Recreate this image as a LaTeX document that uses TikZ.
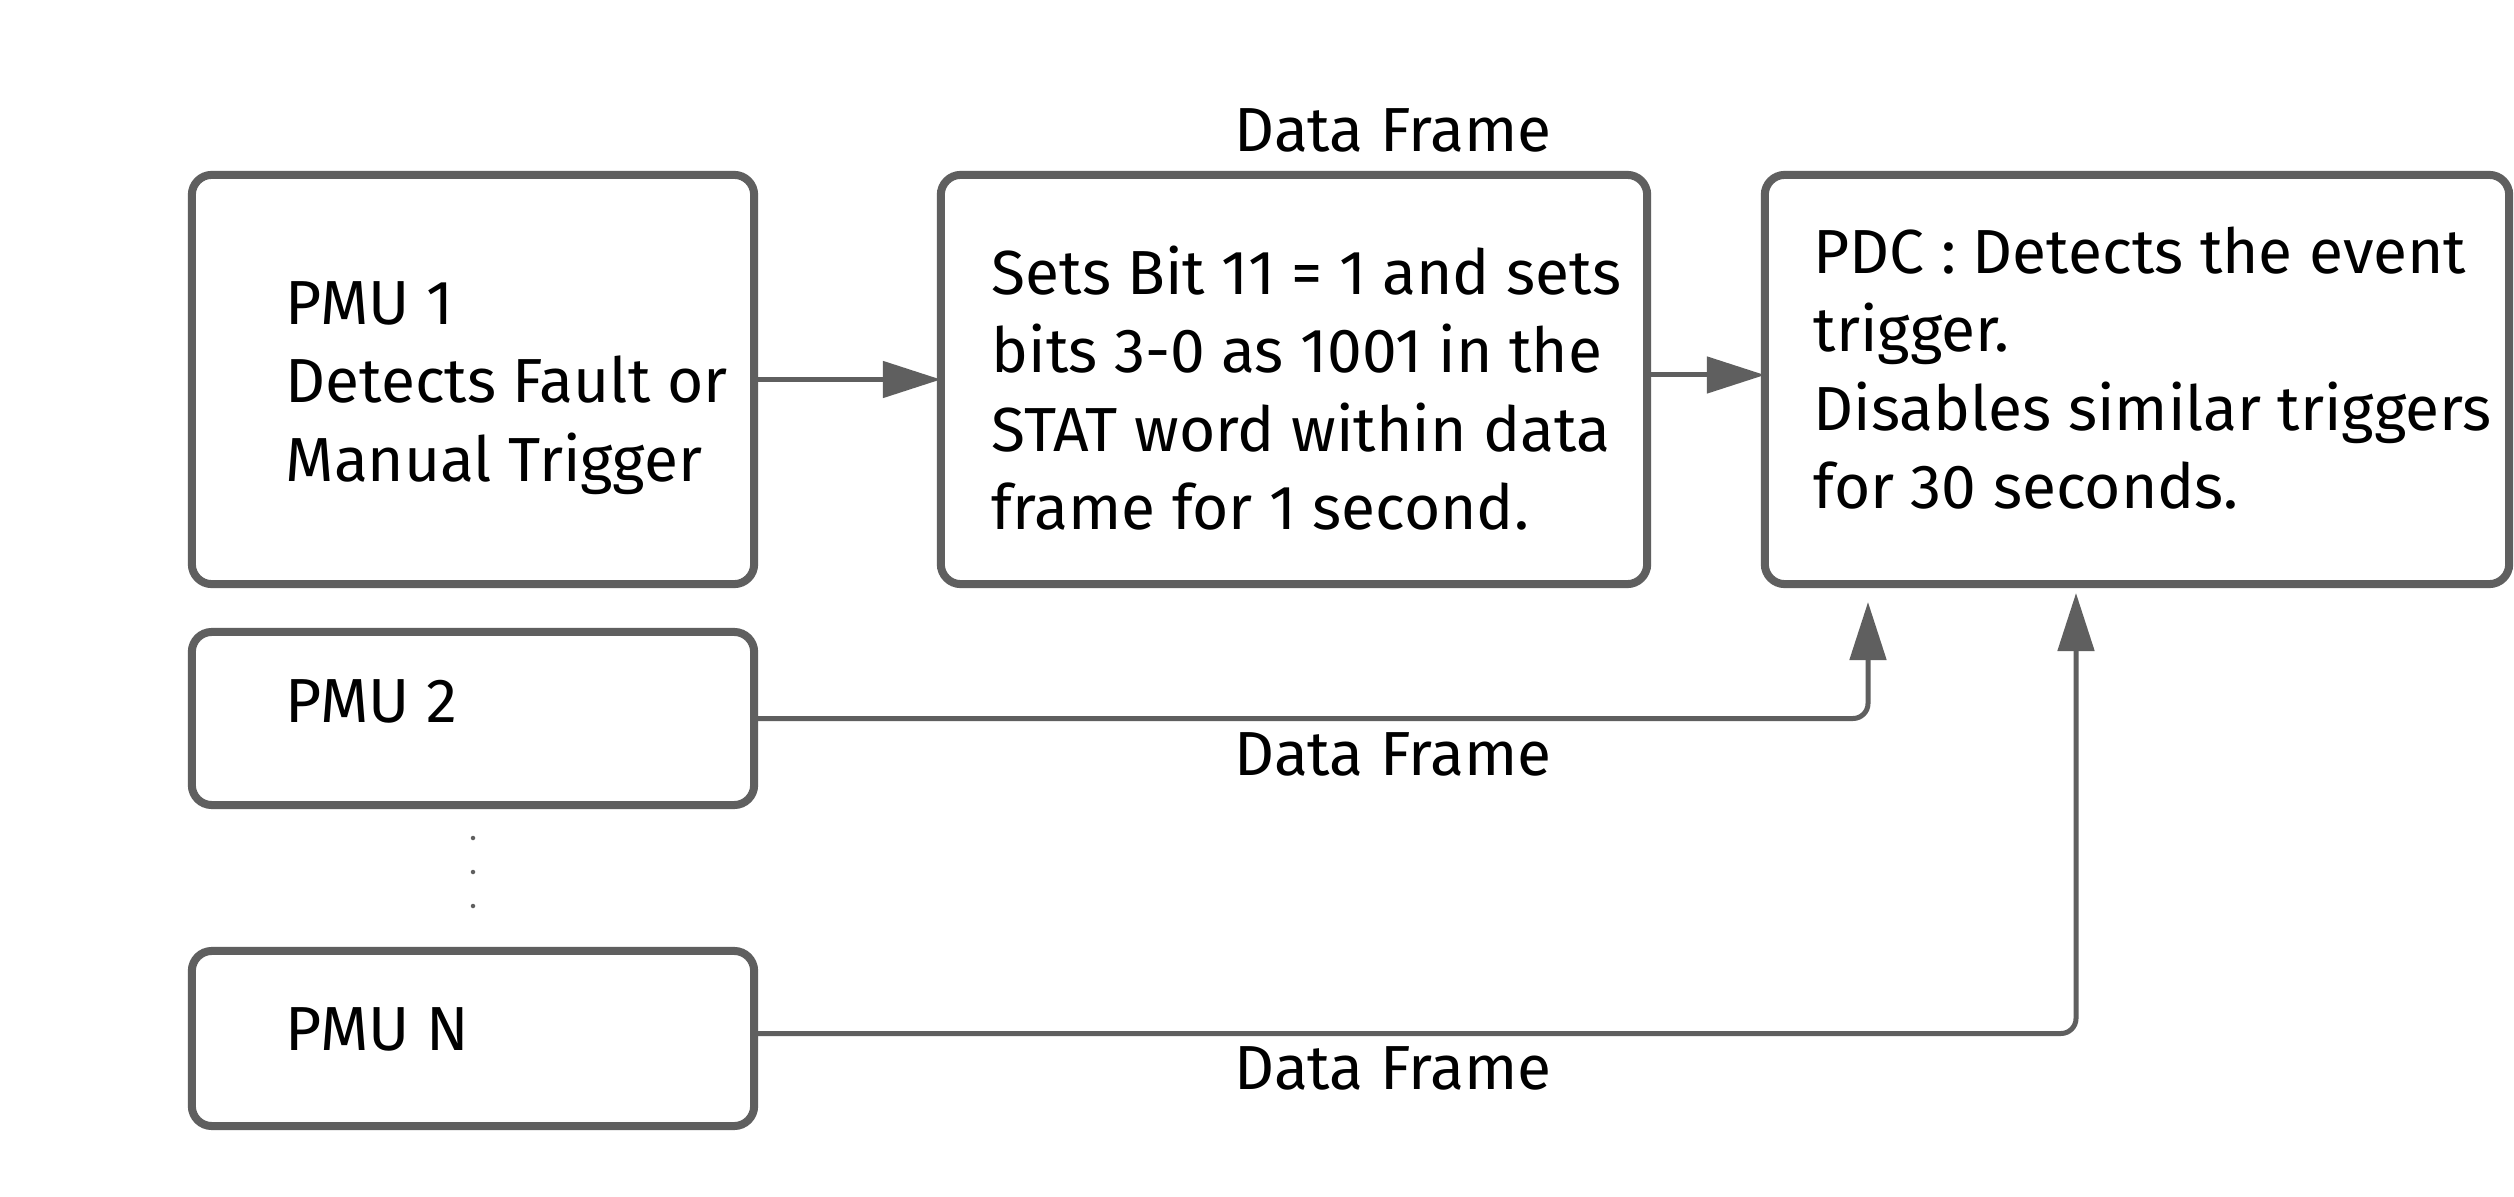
\documentclass[tikz,border=0pt]{standalone}
\usepackage{fontspec}
\setmainfont{Fira Sans}
\usetikzlibrary{arrows.meta,calc}
\definecolor{lg}{HTML}{5F5F5F}
\begin{document}
\begin{tikzpicture}[x=0.01cm,y=-0.01cm,
  box/.style={draw=lg,line width=0.08cm,rounded corners=0.2cm,inner sep=0,outer sep=0,fill=white},
  txt/.style={anchor=west,align=left,inner sep=0,font=\fontsize{17.7}{22.35}\selectfont},
  lbl/.style={inner sep=0,font=\fontsize{17.7}{22.35}\selectfont},
  conn/.style={draw=lg,line width=0.05cm,-{Triangle[length=0.58cm,width=0.36cm]}},
  dot/.style={circle,fill=lg,inner sep=0,minimum size=0.045cm},
]
\useasboundingbox[fill=white] (0,0) rectangle (2514,1197);

% boxes
\node[box,minimum width=5.62cm,minimum height=4.09cm] (pmu1) at (473,379.5) {};
\node[box,minimum width=7.06cm,minimum height=4.09cm] (mid) at (1294,379.5) {};
\node[box,minimum width=7.44cm,minimum height=4.09cm] (pdc) at (2137,379.5) {};
\node[box,minimum width=5.62cm,minimum height=1.73cm] (pmu2) at (473,718.5) {};
\node[box,minimum width=5.62cm,minimum height=1.75cm] (pmun) at (473,1038.5) {};

% texts
\node[txt] (t1) at (285,388) {PMU 1\\Detects Fault or\\Manual Trigger};
\node[txt] (tm) at (991,388) {Sets Bit 11 = 1 and sets\\bits 3-0 as 1001 in the\\STAT word within data\\frame for 1 second.};
\node[txt] (tp) at (1813,368) {PDC : Detects the event\\trigger.\\Disables similar triggers\\for 30 seconds.};
\node[txt] (t2) at (285,701) {PMU 2};
\node[txt] (tn) at (285,1029) {PMU N};

% labels
\node[lbl] (l1) at (1393,130) {Data Frame};
\node[lbl] (l2) at (1393,754) {Data Frame};
\node[lbl] (l3) at (1393,1068) {Data Frame};

% dots
\node[dot] (d1) at (473,838) {};
\node[dot] (d2) at (473,872) {};
\node[dot] (d3) at (473,906) {};

% connectors
\coordinate (in2) at (1868,584);
\coordinate (inn) at (2076,584);
\draw[conn] (pmu1.east) -- (mid.west);
\draw[conn] ([yshift=0.045cm]mid.east) -- ([yshift=0.045cm]pdc.west);
\draw[conn,rounded corners=0.15cm,shorten >=0.18cm] (pmu2.east) -| (in2);
\draw[conn,rounded corners=0.15cm,shorten >=0.09cm] ([yshift=0.05cm]pmun.east) -| (inn);
\end{tikzpicture}
\end{document}
